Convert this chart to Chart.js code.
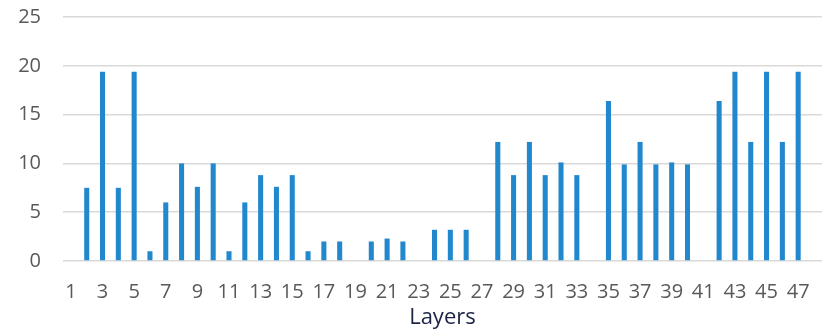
<!DOCTYPE html>
<html>
<head>
<meta charset="utf-8">
<script src="https://cdn.jsdelivr.net/npm/chart.js@4/dist/chart.umd.min.js"></script>
<style>
  html, body { margin: 0; padding: 0; background: #fff; }
  #wrap { width: 833px; height: 331px; }
</style>
</head>
<body>
<div id="wrap"><canvas id="layerChart" width="833" height="331"></canvas></div>
<script>
// Layer numbers 1..48 (only odd ones get a label)
const layers = [];
for (let i = 1; i <= 48; i++) layers.push(String(i));

// values
const values = [
  0, 7.5, 19.4, 7.5, 19.4, 1, 6, 10, 7.6, 10,
  1, 6, 8.8, 7.6, 8.8, 1, 2, 2, 0, 2,
  2.3, 2, 0, 3.2, 3.2, 3.2, 0, 12.2, 8.8, 12.2,
  8.8, 10.1, 8.8, 0, 16.4, 9.9, 12.2, 9.9, 10.1, 9.9,
  0, 16.4, 19.4, 12.2, 19.4, 12.2, 19.4, 0
];

const yTicks = [0, 5, 10, 15, 20, 25];

const tickFont = { family: '"Open Sans", Lato, sans-serif', size: 20 };

const ctx = document.getElementById('layerChart').getContext('2d');
new Chart(ctx, {
    type: 'bar',
    data: {
        labels: layers,
        datasets: [{
            label: 'Layers',
            data: values,
            backgroundColor: '#2288CD',
            borderWidth: 0,
            barPercentage: 0.32,
            categoryPercentage: 1
        }]
    },
    options: {
        responsive: false,
        animation: false,
        layout: { padding: { left: 0, right: 2, top: 17, bottom: 0 } },
        plugins: {
            legend: { display: false },
            tooltip: { enabled: false }
        },
        scales: {
            x: {
                grid: { display: false, drawTicks: false },
                border: { display: false },
                ticks: {
                    autoSkip: false,
                    maxRotation: 0,
                    padding: 19,
                    color: '#595959',
                    font: tickFont,
                    callback: function (val, idx) {
                        return idx % 2 === 0 ? this.getLabelForValue(val) : '';
                    }
                },
                title: {
                    display: true,
                    text: 'Layers',
                    color: '#1b2446',
                    font: { family: '"Open Sans", Lato, sans-serif', size: 22 },
                    padding: { top: 0, bottom: 0 }
                },
                afterFit: (s) => { s.height = 70; }
            },
            y: {
                min: 0,
                max: 25,
                afterBuildTicks: (s) => { s.ticks = yTicks.map(v => ({ value: v })); },
                // invisible tick marks push the labels left without adding top padding
                grid: { color: '#d9d9d9', lineWidth: 1.5, drawTicks: true, tickLength: 22, tickColor: 'rgba(0,0,0,0)' },
                border: { display: false },
                ticks: {
                    padding: 0,
                    color: '#595959',
                    font: tickFont
                },
                afterFit: (s) => { s.width = 63; }
            }
        }
    }
});
</script>
</body>
</html>
